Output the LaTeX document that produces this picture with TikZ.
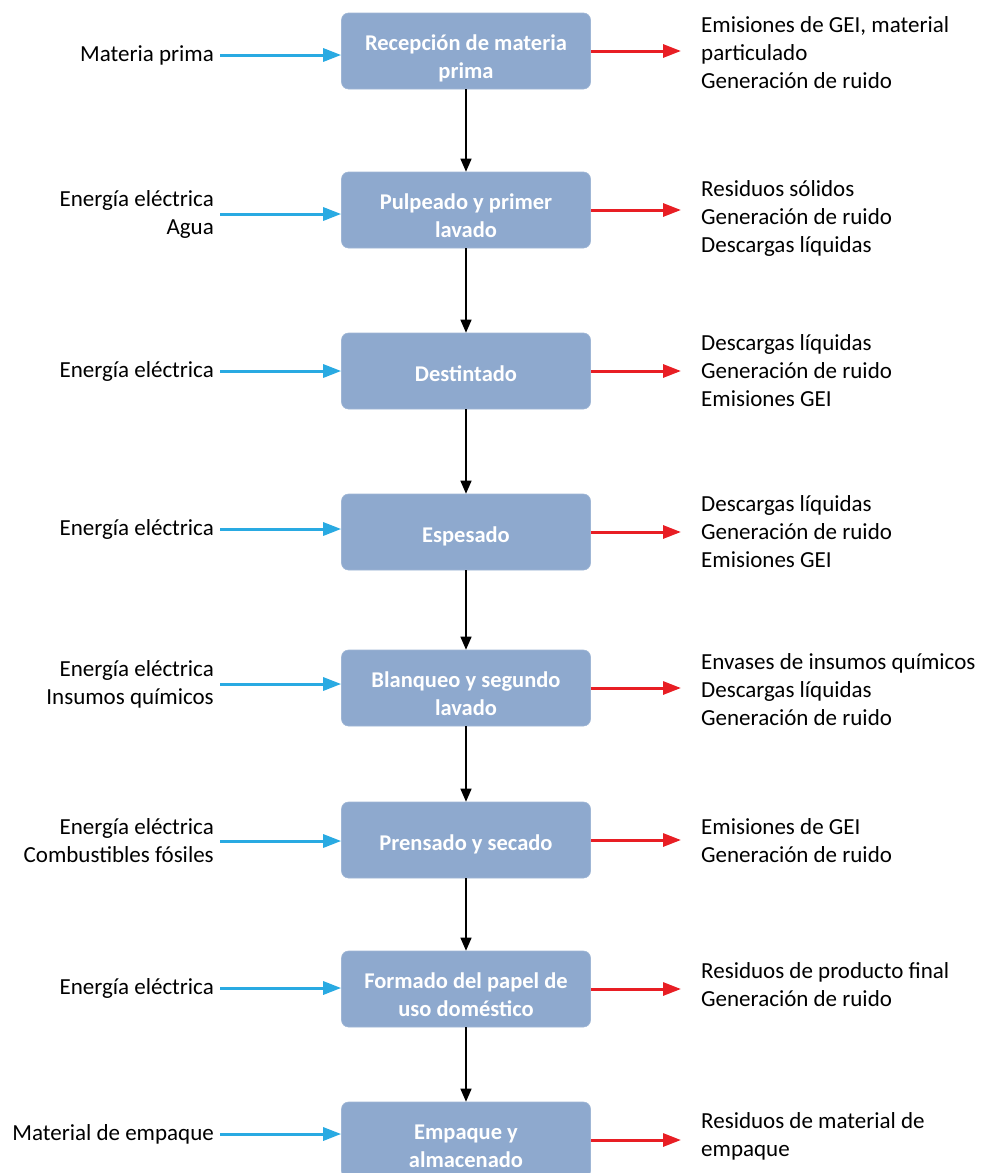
\documentclass[tikz,border=0pt]{standalone}
\usepackage{fontspec}
\setmainfont{Carlito}
\usetikzlibrary{arrows.meta}
\definecolor{boxc}{RGB}{142,169,206}
\definecolor{inc}{RGB}{41,170,226}
\definecolor{outc}{RGB}{232,30,36}
\newcommand{\boxtext}[2][-8pt]{\raisebox{#1}[\height][\depth]{\begin{tabular}{@{}c@{}}#2\end{tabular}}}
\begin{document}
\begin{tikzpicture}[x=1pt,y=-1pt,
  proc/.style={rectangle,rounded corners=7pt,fill=boxc,draw=boxc!85!white,line width=0.6pt,
    minimum width=249pt,minimum height=76pt,
    text=white,font=\fontsize{22.5}{28}\selectfont\bfseries},
  inlab/.style={anchor=east,align=right,inner xsep=6pt,inner ysep=0pt,font=\fontsize{23}{28}\selectfont},
  outlab/.style={anchor=west,align=left,inner xsep=20pt,inner ysep=0pt,font=\fontsize{23}{28}\selectfont},
  inarr/.style={draw=inc,line width=3pt,-{Triangle[length=18pt,width=13pt]}},
  outarr/.style={draw=outc,line width=3pt,-{Triangle[length=18pt,width=13pt]}},
  flow/.style={draw=black,line width=1.3pt,-{Triangle[length=13pt,width=11pt]}}]
\useasboundingbox (0,0) rectangle (981,1173);
\clip (0,0) rectangle (981,1173);

\node[proc] (b1) at (466,51) {\boxtext{Recepción de materia\\prima}};
\node[proc] (b2) at (466,210) {\boxtext{Pulpeado y primer\\lavado}};
\node[proc] (b3) at (466,371) {\boxtext[-5pt]{Destintado}};
\node[proc] (b4) at (466,532) {\boxtext[-5pt]{Espesado}};
\node[proc] (b5) at (466,688) {\boxtext{Blanqueo y segundo\\lavado}};
\node[proc] (b6) at (466,840) {\boxtext[-5pt]{Prensado y secado}};
\node[proc] (b7) at (466,989) {\boxtext{Formado del papel de\\uso doméstico}};
\node[proc] (b8) at (466,1140) {\boxtext{Empaque y\\almacenado}};

\node[inlab] (l1) at (220,55) {Materia prima};
\node[inlab] (l2) at (220,214) {Energía eléctrica\\Agua};
\node[inlab] (l3) at (220,371) {Energía eléctrica};
\node[inlab] (l4) at (220,529) {Energía eléctrica};
\node[inlab] (l5) at (220,684) {Energía eléctrica\\Insumos químicos};
\node[inlab] (l6) at (220,841) {Energía eléctrica\\Combustibles fósiles};
\node[inlab] (l7) at (220,988) {Energía eléctrica};
\node[inlab] (l8) at (220,1134) {Material de empaque};

\node[outlab] (r1) at (681,53) {Emisiones de GEI, material\\particulado\\Generación de ruido};
\node[outlab] (r2) at (681,218) {Residuos sólidos\\Generación de ruido\\Descargas líquidas};
\node[outlab] (r3) at (681,371) {Descargas líquidas\\Generación de ruido\\Emisiones GEI};
\node[outlab] (r4) at (681,532) {Descargas líquidas\\Generación de ruido\\Emisiones GEI};
\node[outlab] (r5) at (681,690) {Envases de insumos químicos\\Descargas líquidas\\Generación de ruido};
\node[outlab] (r6) at (681,841) {Emisiones de GEI\\Generación de ruido};
\node[outlab] (r7) at (681,985) {Residuos de producto final\\Generación de ruido};
\node[outlab] (r8) at (681,1136) {Residuos de material de\\empaque};

\foreach \i in {1,...,8}{
  \draw[inarr] (l\i.east) -- (l\i.east -| b\i.west);
  \draw[outarr] (b\i.east) -- (b\i.east -| r\i.west);
}
\foreach \i/\j in {1/2,2/3,3/4,4/5,5/6,6/7,7/8}{
  \draw[flow] (b\i.south) -- (b\j.north);
}
\end{tikzpicture}
\end{document}
